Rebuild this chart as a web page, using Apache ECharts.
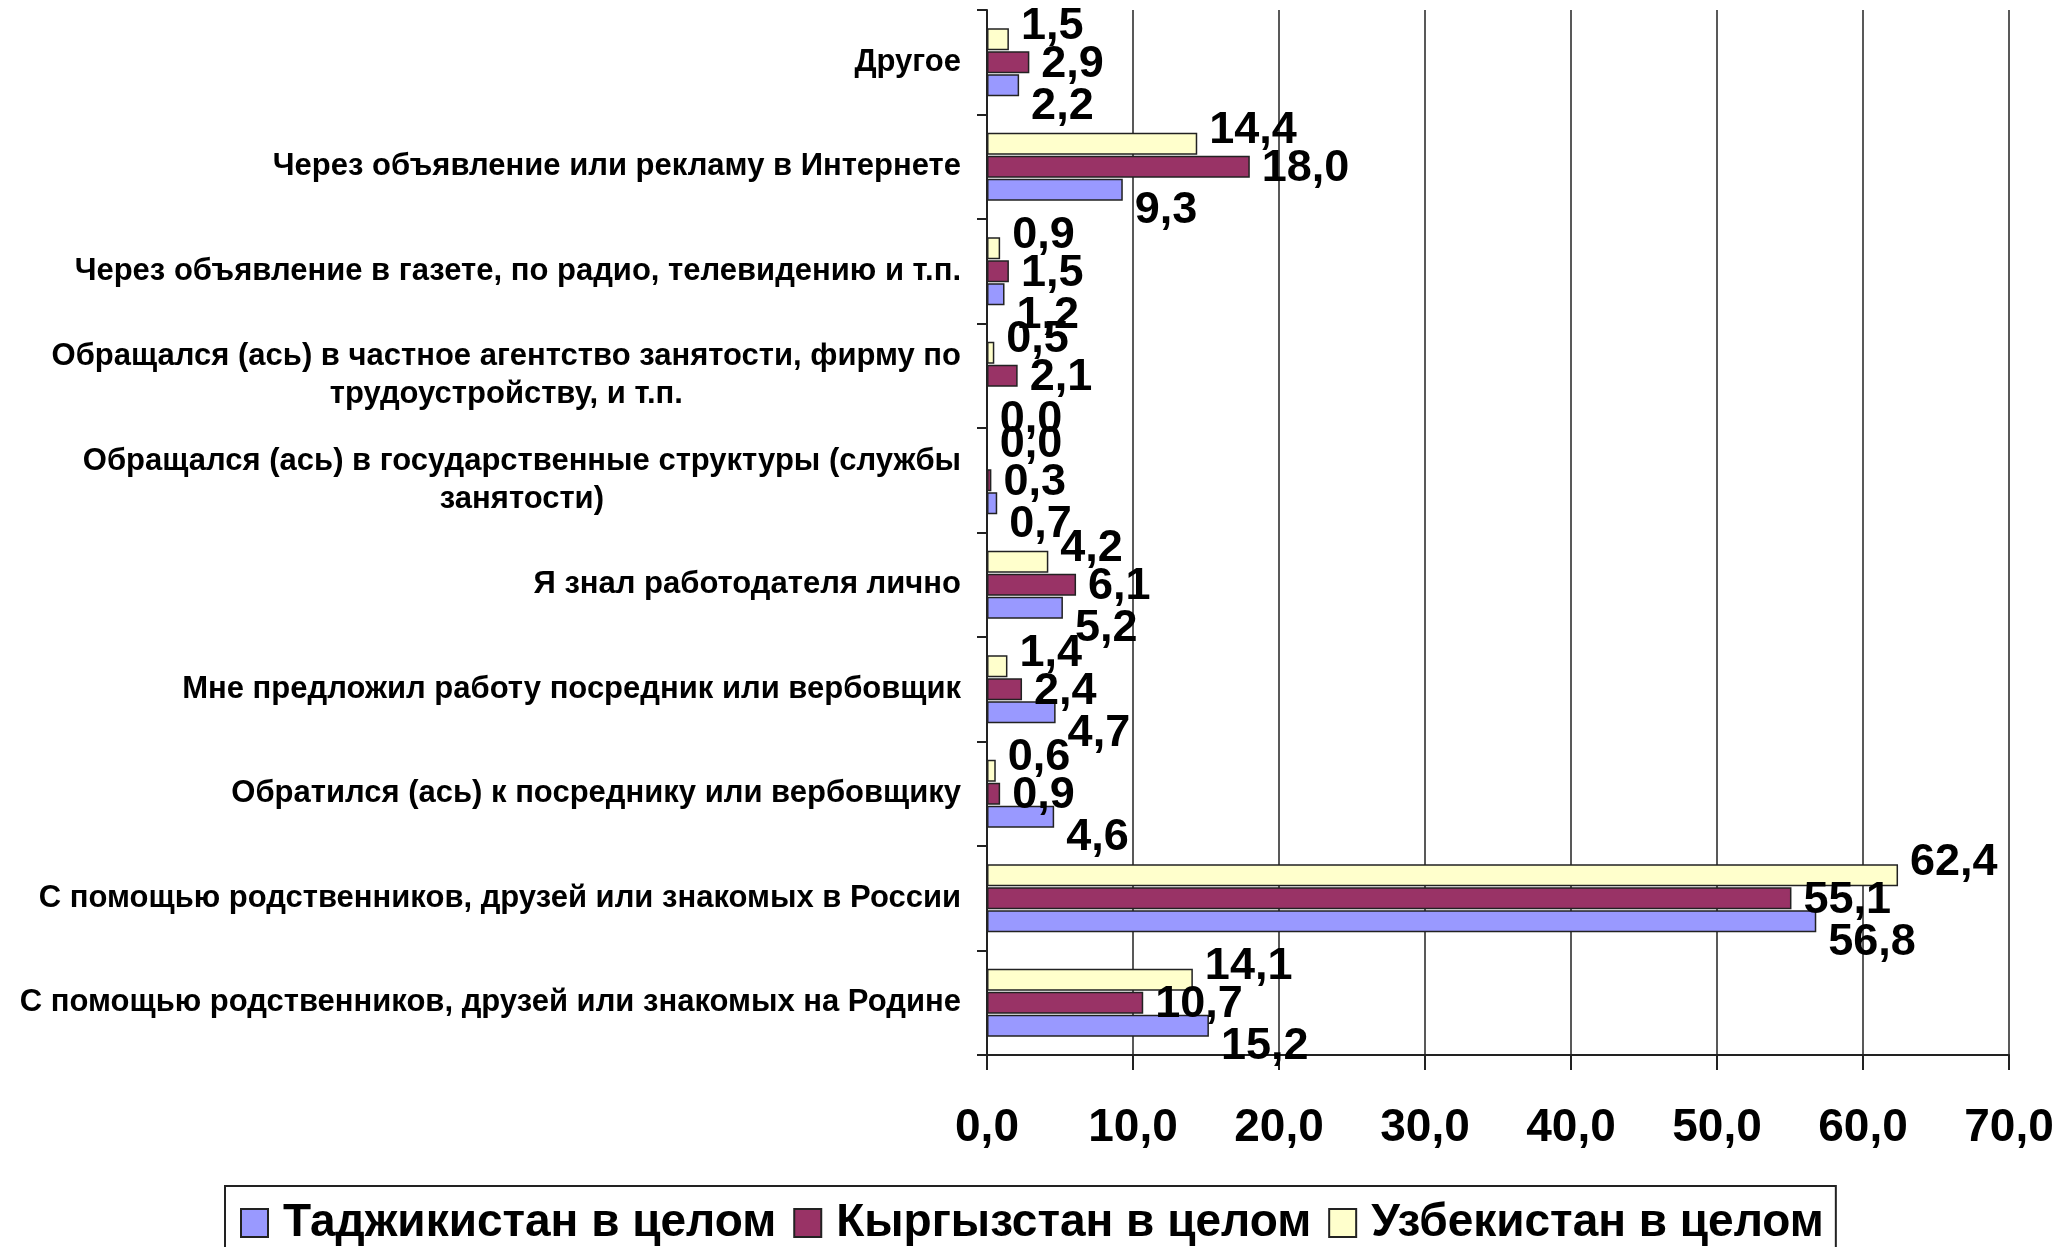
<!DOCTYPE html>
<html>
<head>
<meta charset="utf-8">
<script src="https://cdn.jsdelivr.net/npm/echarts@6/dist/echarts.min.js"></script>
<style>
html,body{margin:0;padding:0;background:#fff;}
#chart{width:2069px;height:1247px;}
</style>
</head>
<body>
<div id="chart"></div>
<script>
// Categories listed bottom-to-top (ECharts category y axis starts at the bottom)
const categories = [
  'С помощью родственников, друзей или знакомых на Родине',
  'С помощью родственников, друзей или знакомых в России',
  'Обратился (ась) к посреднику или вербовщику',
  'Мне предложил работу посредник или вербовщик',
  'Я знал работодателя лично',
  'Обращался (ась) в государственные структуры (службы\nзанятости)',
  'Обращался (ась) в частное агентство занятости, фирму по\nтрудоустройству, и т.п.',
  'Через объявление в газете, по радио, телевидению и т.п.',
  'Через объявление или рекламу в Интернете',
  'Другое'
];
const seriesNames = ['Таджикистан в целом', 'Кыргызстан в целом', 'Узбекистан в целом'];
const tajikistan = [15.2, 56.8, 4.6, 4.7, 5.2, 0.7, 0.0, 1.2, 9.3, 2.2];
const kyrgyzstan = [10.7, 55.1, 0.9, 2.4, 6.1, 0.3, 2.1, 1.5, 18.0, 2.9];
const uzbekistan = [14.1, 62.4, 0.6, 1.4, 4.2, 0.0, 0.5, 0.9, 14.4, 1.5];
const xTicks = [0, 10, 20, 30, 40, 50, 60, 70];

const FONT = '"Liberation Sans", Arial, sans-serif';
const fmt = v => Number(v).toFixed(1).replace('.', ',');

// drawing order: first series is placed at the top of each group
const drawOrder = [
  { name: seriesNames[2], data: uzbekistan, color: '#FFFFCC', offset: [0, -13] },
  { name: seriesNames[1], data: kyrgyzstan, color: '#993366', offset: [0, 2] },
  { name: seriesNames[0], data: tajikistan, color: '#9999FF', offset: [0, 21] }
];

const chart = echarts.init(document.getElementById('chart'));
chart.setOption({
  animation: false,
  textStyle: { fontFamily: FONT },
  grid: {
    left: 987, right: 60, top: 10, bottom: 192,
    containLabel: false,
    outerBoundsMode: 'none'
  },
  legend: {
    data: seriesNames,
    left: 225, top: 1186,
    padding: [14, 12, 20, 15],
    borderColor: '#222', borderWidth: 2,
    itemWidth: 27, itemHeight: 28, itemGap: 17,
    icon: 'rect',
    textStyle: { fontSize: 46, fontWeight: 'bold', color: '#000', fontFamily: FONT, padding: [0, 0, 0, 10] }
  },
  xAxis: {
    type: 'value',
    min: xTicks[0], max: xTicks[xTicks.length - 1], interval: 10,
    axisLine: { show: true, lineStyle: { color: '#222', width: 2 } },
    axisTick: { show: true, length: 15, lineStyle: { color: '#222', width: 2 } },
    splitLine: { show: true, lineStyle: { color: '#222', width: 1.5 } },
    axisLabel: {
      formatter: v => fmt(v),
      fontSize: 46, fontWeight: 'bold', color: '#000', margin: 50, fontFamily: FONT
    }
  },
  yAxis: {
    type: 'category',
    data: categories,
    axisLine: { show: true, lineStyle: { color: '#222', width: 2 } },
    axisTick: { show: true, length: 10, lineStyle: { color: '#222', width: 2 } },
    splitLine: { show: false },
    axisLabel: {
      margin: 26,
      fontSize: 31, fontWeight: 'bold', color: '#000', fontFamily: FONT,
      lineHeight: 38,
      formatter: v => v.split('\n').map(l => '{c|' + l + '}').join('\n'),
      rich: {
        c: { align: 'center', fontSize: 31, fontWeight: 'bold', color: '#000', lineHeight: 38, fontFamily: FONT }
      }
    }
  },
  series: drawOrder.map(s => ({
    name: s.name,
    type: 'bar',
    data: s.data,
    barWidth: 22,
    barGap: '4%',
    itemStyle: { color: s.color, borderColor: '#222', borderWidth: 1.5 },
    emphasis: { disabled: true },
    label: {
      show: true,
      position: 'right',
      distance: 12,
      offset: s.offset,
      formatter: p => fmt(p.value),
      fontSize: 45, fontWeight: 'bold', color: '#000', fontFamily: FONT
    }
  }))
});
</script>
</body>
</html>
